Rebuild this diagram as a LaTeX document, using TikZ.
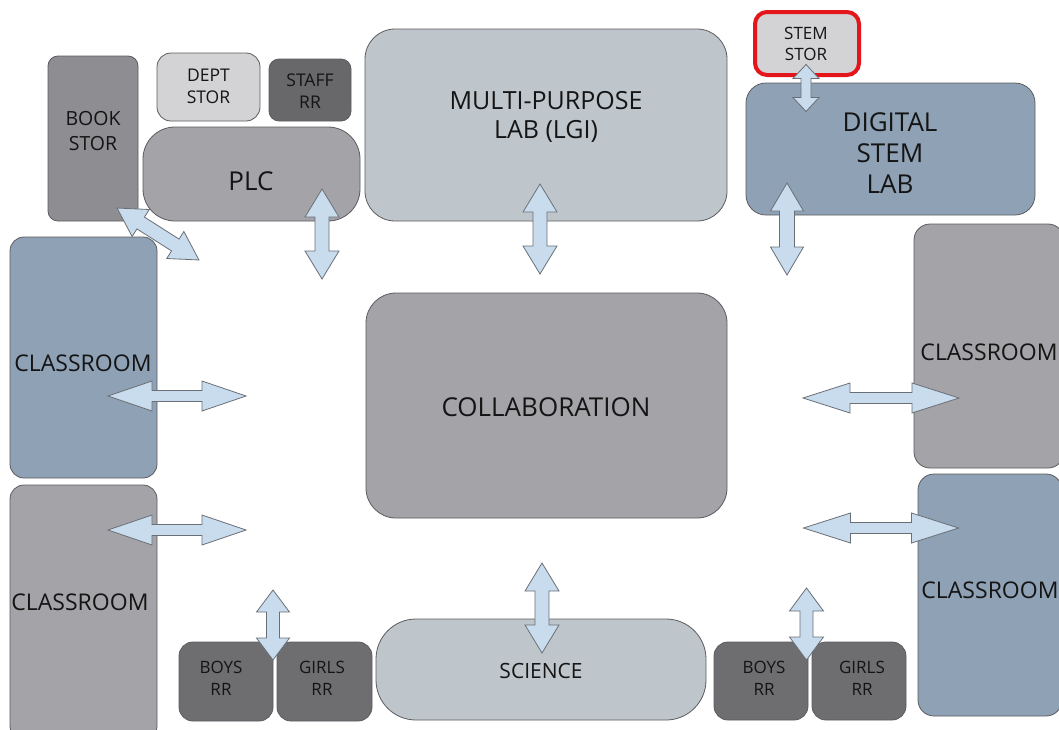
\documentclass[tikz,border=0pt]{standalone}
\usepackage{fontspec}
\setmainfont{Open Sans}
\definecolor{cDark}{HTML}{6E6E71}
\definecolor{cStaff}{HTML}{68686B}
\definecolor{cBook}{HTML}{8E8E92}
\definecolor{cMid}{HTML}{A4A4A8}
\definecolor{cLightBlue}{HTML}{BFC6CB}
\definecolor{cBlue}{HTML}{8FA1B5}
\definecolor{cLight}{HTML}{D3D3D5}
\definecolor{cArrow}{HTML}{C8DCEE}
\definecolor{cArrowLine}{HTML}{6A6F76}
\definecolor{cLine}{HTML}{5C5C60}
\definecolor{cRed}{HTML}{E3161C}
\definecolor{cText}{HTML}{141414}
\newcommand\fsz[2]{\fontsize{#1}{#2}\selectfont}
\tikzset{
  room/.style={draw=cLine, line width=0.8pt, inner sep=0pt, outer sep=0pt},
  lbl/.style={text=cText, align=center, inner sep=0pt},
  arrowbody/.style={draw=cArrowLine, fill=cArrow, line width=0.8pt, line join=miter},
  pics/darr/.style n args={4}{code={
    \draw[arrowbody] (-#1/2,0) -- (-#1/2+#2,#3) -- (-#1/2+#2,#4) -- (#1/2-#2,#4)
      -- (#1/2-#2,#3) -- (#1/2,0) -- (#1/2-#2,-#3) -- (#1/2-#2,-#4)
      -- (-#1/2+#2,-#4) -- (-#1/2+#2,-#3) -- cycle;
  }}
}
\begin{document}
\begin{tikzpicture}[x=1pt,y=-1pt]
\useasboundingbox (0,0) rectangle (1059,729);
\clip (0,0) rectangle (1059,729);
\fill[white] (0,0) rectangle (1059,729);

% rooms
\node[room, fill=cBook, rounded corners=10pt, minimum width=90pt, minimum height=165pt] (book) at (93,138.5) {};
\node[room, fill=cLight, rounded corners=14pt, minimum width=103pt, minimum height=68pt] (dept) at (208.5,87) {};
\node[room, fill=cStaff, rounded corners=10pt, minimum width=82pt, minimum height=62pt] (staff) at (310,90) {};
\node[room, fill=cMid, rounded corners=32pt, minimum width=217pt, minimum height=94pt] (plc) at (251.5,174) {};
\node[room, fill=cLightBlue, rounded corners=30pt, minimum width=362pt, minimum height=192pt] (mp) at (546,125) {};
\node[draw=cRed, line width=4pt, fill=cLight, rounded corners=12pt, inner sep=0pt, minimum width=104pt, minimum height=63pt] (stem) at (807,43.5) {};
\node[room, fill=cBlue, rounded corners=20pt, minimum width=289pt, minimum height=132pt] (digital) at (890.5,149) {};
\node[room, fill=cBlue, rounded corners=14pt, minimum width=147pt, minimum height=241pt] (clsLa) at (83.5,357.5) {};
\node[room, fill=cMid, rounded corners=14pt, minimum width=147pt, minimum height=255pt] (clsLb) at (83.5,612.5) {};
\node[room, fill=cMid, rounded corners=30pt, minimum width=361pt, minimum height=225pt] (collab) at (546.5,405.5) {};
\node[room, fill=cMid, rounded corners=16pt, minimum width=150pt, minimum height=244pt] (clsRa) at (989,346) {};
\node[room, fill=cBlue, rounded corners=16pt, minimum width=144pt, minimum height=242pt] (clsRb) at (990,595) {};
\node[room, fill=cDark, rounded corners=14pt, minimum width=94pt, minimum height=79pt] (boysL) at (226,681.5) {};
\node[room, fill=cDark, rounded corners=14pt, minimum width=95pt, minimum height=79pt] (girlsL) at (324.5,681.5) {};
\node[room, fill=cLightBlue, rounded corners=40pt, minimum width=330pt, minimum height=101pt] (science) at (541,669.5) {};
\node[room, fill=cDark, rounded corners=14pt, minimum width=94pt, minimum height=78pt] (boysR) at (761,681) {};
\node[room, fill=cDark, rounded corners=14pt, minimum width=94pt, minimum height=78pt] (girlsR) at (859,681) {};

% labels
\node[lbl, font=\fsz{19.5}{25}] (bookT) at (93,131) {BOOK\\STOR};
\node[lbl, font=\fsz{17.5}{22}] (deptT) at (208.5,86) {DEPT\\STOR};
\node[lbl, font=\fsz{17.5}{22}] (staffT) at (310,91) {STAFF\\RR};
\node[lbl, font=\fsz{26}{30}] (plcT) at (251,181) {PLC};
\node[lbl, font=\fsz{25}{29}] (mpT) at (546,116.5) {MULTI-PURPOSE\\LAB (LGI)};
\node[lbl, font=\fsz{17}{21}] (stemT) at (806,43.5) {STEM\\STOR};
\node[lbl, font=\fsz{26}{31}] (digitalT) at (890,153) {DIGITAL\\STEM\\LAB};
\node[lbl, font=\fsz{23}{26}] (clsLaT) at (83,363) {CLASSROOM};
\node[lbl, font=\fsz{23}{26}] (clsLbT) at (80,602) {CLASSROOM};
\node[lbl, font=\fsz{26}{30}] (collabT) at (546,407) {COLLABORATION};
\node[lbl, font=\fsz{23}{26}] (clsRaT) at (989,352) {CLASSROOM};
\node[lbl, font=\fsz{23}{26}] (clsRbT) at (990,590) {CLASSROOM};
\node[lbl, font=\fsz{17}{22}] (boysLT) at (221,678) {BOYS\\RR};
\node[lbl, font=\fsz{17}{22}] (girlsLT) at (322,678) {GIRLS\\RR};
\node[lbl, font=\fsz{21}{24}] (scienceT) at (541,671) {SCIENCE};
\node[lbl, font=\fsz{17}{22}] (boysRT) at (764,678) {BOYS\\RR};
\node[lbl, font=\fsz{17}{22}] (girlsRT) at (862,678) {GIRLS\\RR};

% arrow positions
\coordinate (aBook) at (158,234);
\coordinate (aPlc) at (322,234);
\coordinate (aMp) at (540,229);
\coordinate (aDig) at (787,229);
\coordinate (aStem) at (806,88);
\coordinate (aLa) at (177,396);
\coordinate (aLb) at (177,530);
\coordinate (aRa) at (881,398);
\coordinate (aRb) at (881,528);
\coordinate (aSci) at (542,608);
\coordinate (aBL) at (273,625);
\coordinate (aBR) at (806.5,624);

% arrows
\pic[rotate=-32.4] at (aBook) {darr={97}{28}{16}{7}};
\pic[rotate=90] at (aPlc) {darr={90}{28}{17}{7}};
\pic[rotate=90] at (aMp) {darr={90}{28}{17}{7}};
\pic[rotate=90] at (aDig) {darr={92}{28}{16.5}{7.5}};
\pic[rotate=90] at (aStem) {darr={47}{14}{13}{5}};
\pic at (aLa) {darr={138}{44}{15}{5.5}};
\pic at (aLb) {darr={138}{44}{15}{5.5}};
\pic at (aRa) {darr={156}{47}{15}{5.5}};
\pic at (aRb) {darr={155}{47}{15}{5.5}};
\pic[rotate=90] at (aSci) {darr={90}{28}{17}{7}};
\pic[rotate=90] at (aBL) {darr={70}{22}{16.5}{6.5}};
\pic[rotate=90] at (aBR) {darr={72}{23}{17}{6.5}};
\end{tikzpicture}
\end{document}
